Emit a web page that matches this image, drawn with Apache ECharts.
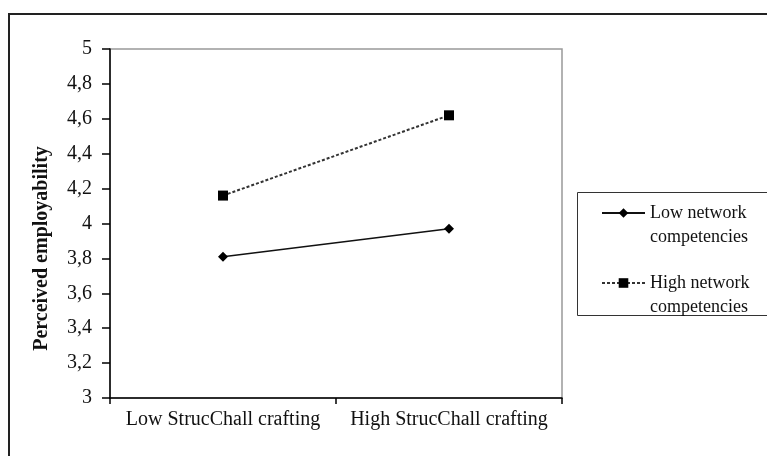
<!DOCTYPE html>
<html>
<head>
<meta charset="utf-8">
<script src="https://cdn.jsdelivr.net/npm/echarts@6/dist/echarts.min.js"></script>
<style>
html, body { margin: 0; padding: 0; background: #fff; }
#chart { width: 767px; height: 456px; }
</style>
</head>
<body>
<div id="chart"></div>
<script>
var categories = ['Low StrucChall crafting', 'High StrucChall crafting'];
var lowNetwork = [3.81, 3.97];
var highNetwork = [4.16, 4.62];
var seriesNames = ['Low network competencies', 'High network competencies'];
var yMin = 3, yMax = 5, yStep = 0.2;

var serif = 'Liberation Serif';
var myChart = echarts.init(document.getElementById('chart'));

option = {
    backgroundColor: '#fff',
    animation: false,
    grid: {
        left: 110, right: 205, top: 49, bottom: 58,
        show: true,
        borderColor: '#999',
        borderWidth: 1.5
    },
    legend: {
        orient: 'vertical',
        left: 601,
        top: 177,
        padding: 0,
        itemGap: -2,
        itemWidth: 43,
        itemHeight: 12,
        data: seriesNames,
        // leading blank line keeps the first text line level with the icon
        formatter: function (name) {
            return '\n' + name.replace(' competencies', '\ncompetencies');
        },
        textStyle: {
            fontFamily: serif,
            fontSize: 18,
            lineHeight: 24,
            color: '#111'
        }
    },
    graphic: [
        {   // outer frame
            type: 'rect',
            shape: { x: 9, y: 14, width: 800, height: 500 },
            style: { fill: 'none', stroke: '#222', lineWidth: 2 },
            silent: true
        },
        {   // legend box
            type: 'rect',
            shape: { x: 577.5, y: 192.5, width: 220, height: 123 },
            style: { fill: 'none', stroke: '#333', lineWidth: 1 },
            silent: true
        }
    ],
    xAxis: {
        type: 'category',
        data: categories,
        boundaryGap: true,
        axisLine: { lineStyle: { color: '#000', width: 1.5 } },
        axisTick: { show: true, length: 6, alignWithLabel: false, lineStyle: { color: '#000', width: 1.5 } },
        axisLabel: { interval: 0, margin: 12, fontFamily: serif, fontSize: 20, color: '#111' },
        splitLine: { show: false }
    },
    yAxis: {
        type: 'value',
        min: yMin, max: yMax, interval: yStep,
        name: 'Perceived employability',
        nameLocation: 'middle',
        nameRotate: 90,
        nameGap: 58,
        nameTextStyle: {
            fontFamily: serif, fontSize: 20, fontWeight: 'bold', color: '#111',
            padding: [0, 50, 0, 0]
        },
        axisLine: { show: true, lineStyle: { color: '#000', width: 1.5 } },
        axisTick: { show: true, length: 8, lineStyle: { color: '#000', width: 1.5 } },
        axisLabel: {
            margin: 18, fontFamily: serif, fontSize: 20, color: '#111',
            formatter: function (v) {
                return String(Math.round(v * 10) / 10).replace('.', ',');
            }
        },
        splitLine: { show: false }
    },
    series: [
        {
            name: seriesNames[0],
            type: 'line',
            data: lowNetwork,
            symbol: 'diamond',
            symbolSize: 10,
            itemStyle: { color: '#000' },
            lineStyle: { color: '#111', width: 1.5, type: 'solid' }
        },
        {
            name: seriesNames[1],
            type: 'line',
            data: highNetwork,
            symbol: 'rect',
            symbolSize: 10,
            itemStyle: { color: '#000' },
            lineStyle: { color: '#333', width: 2, type: [3, 2] }
        }
    ]
};

myChart.setOption(option);
</script>
</body>
</html>
